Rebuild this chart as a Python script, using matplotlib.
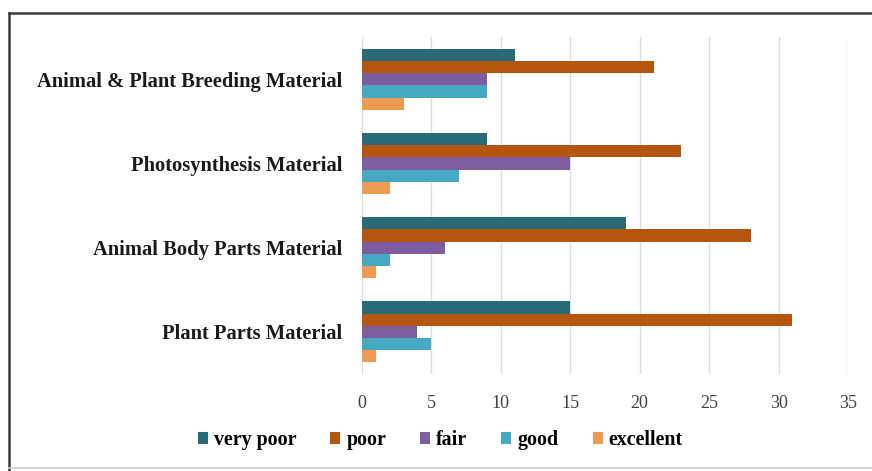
import numpy as np
import matplotlib.pyplot as plt
from matplotlib.lines import Line2D

# Data (bottom to top on the y axis)
materials = [
    "Plant Parts Material",
    "Animal Body Parts Material",
    "Photosynthesis Material",
    "Animal & Plant Breeding Material",
]
ratings = ["very poor", "poor", "fair", "good", "excellent"]
very_poor = [15, 19, 9, 11]
poor = [31, 28, 23, 21]
fair = [4, 6, 15, 9]
good = [5, 2, 7, 9]
excellent = [1, 1, 2, 3]

colors = ["#2a6a77", "#b5560f", "#7d5c9f", "#46a8c3", "#ef9a52"]

plt.rcParams["font.family"] = ["Liberation Serif", "DejaVu Serif"]

fig = plt.figure(figsize=(8.72, 4.71), dpi=100)
ax = fig.add_axes([0.415, 0.206, 0.5575, 0.715])

# Plot grouped horizontal bars, very poor on top within each group
series = [very_poor, poor, fair, good, excellent]
y = np.arange(len(materials))
bar_h = 0.145
handles = []
for i, (vals, label, col) in enumerate(zip(series, ratings, colors)):
    offset = (2 - i) * bar_h
    h = ax.barh(y + offset, vals, height=bar_h, color=col, label=label, zorder=3)
    handles.append(h)

# Formatting
ax.set_xlim(0, 35)
ax.set_ylim(-0.5, 3.5)
ax.set_xticks(np.arange(0, 36, 5))
ax.set_yticks(y)
ax.set_yticklabels(materials, fontsize=14.8, fontweight="bold", color="#1a1a1a")
ax.tick_params(axis="y", length=0, pad=14)
ax.tick_params(axis="x", length=0, pad=15, labelsize=13, labelcolor="#404040")
ax.grid(axis="x", color="#dcdcdc", linewidth=1, zorder=0)
for s in ax.spines.values():
    s.set_visible(False)

# Legend
fig.legend(handles, ratings, loc="center", bbox_to_anchor=(0.505, 0.066), ncol=5,
           frameon=False, handlelength=0.5, handleheight=0.5, handletextpad=0.3,
           columnspacing=1.7, prop={"weight": "bold", "size": 14.4})

# Frame around the chart
fig.add_artist(Line2D([0.0103, 1.0], [0.972, 0.972], color="#3a3a3a", linewidth=1.8))
fig.add_artist(Line2D([0.0103, 0.0103], [0.0, 0.972], color="#3a3a3a", linewidth=1.8))
fig.add_artist(Line2D([0.0103, 1.0], [0.006, 0.006], color="#d0d0d0", linewidth=1.2))

plt.savefig("out.png", dpi=100)
